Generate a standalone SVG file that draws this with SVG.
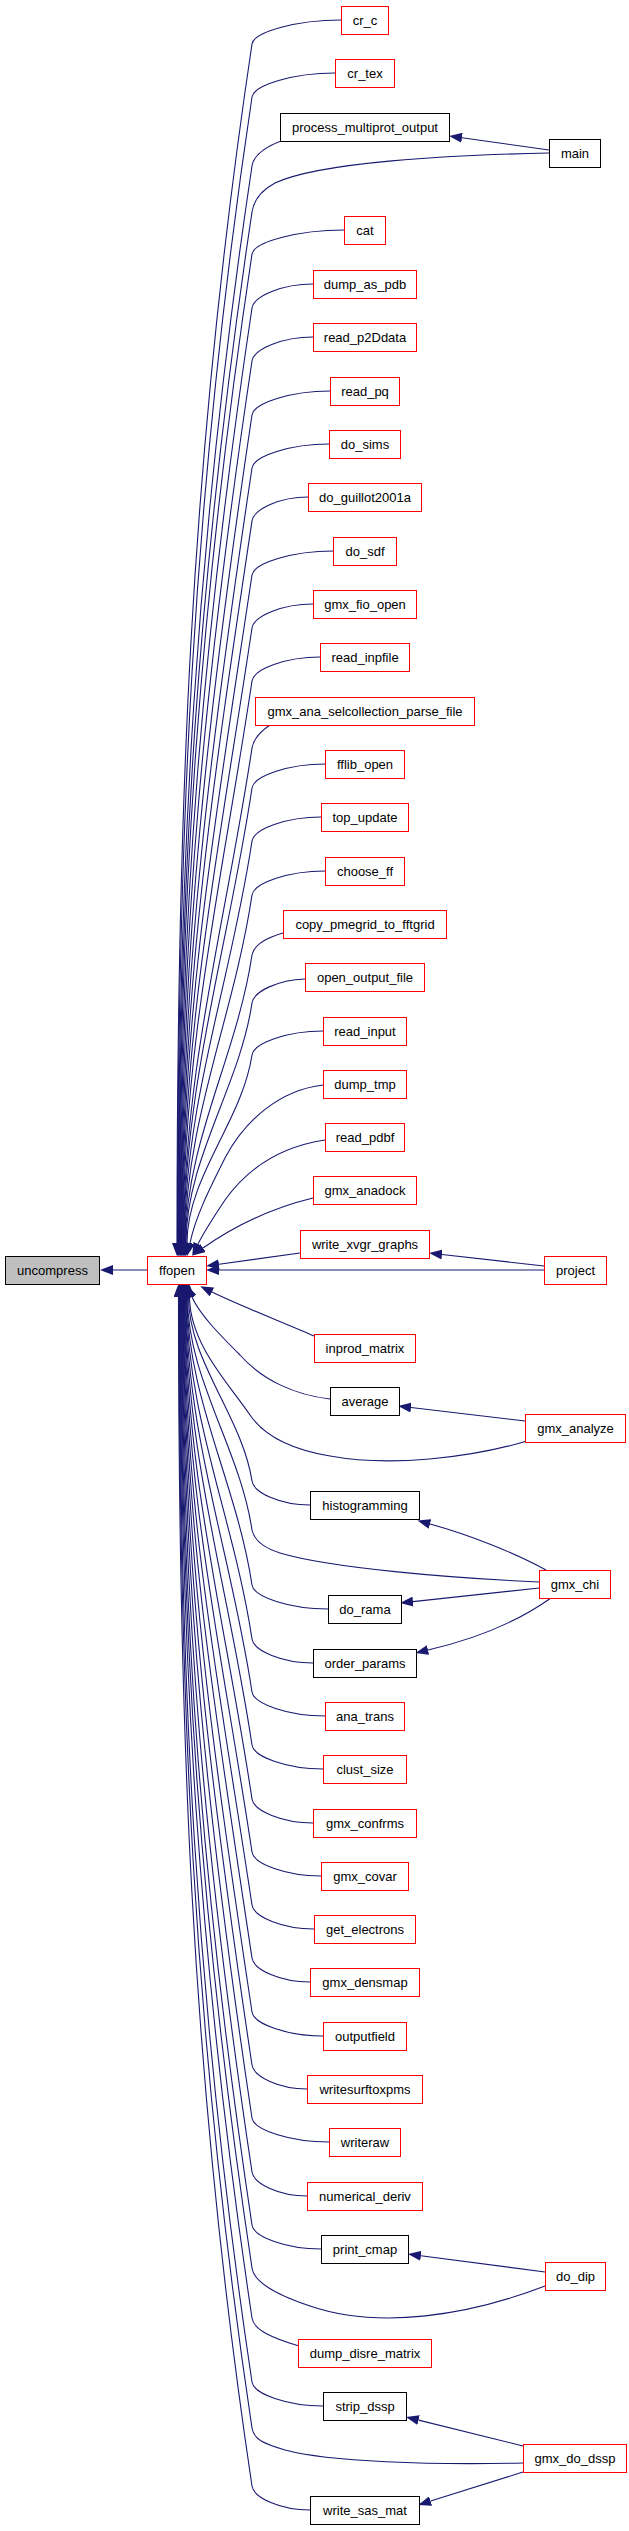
<svg xmlns="http://www.w3.org/2000/svg" width="629" height="2531" viewBox="0 0 629 2531">
<style>
.r{fill:#fff;stroke:#ff0000;stroke-width:1}
.k{fill:#fff;stroke:#000;stroke-width:1}
.g{fill:#bfbfbf;stroke:#000;stroke-width:1}
text{font-family:"Liberation Sans",Arial,sans-serif;font-size:13px;text-anchor:middle;fill:#000}
.e{fill:none;stroke:#191970;stroke-width:1.1;marker-end:url(#ah)}
</style>
<defs>
<marker id="ah" viewBox="0 0 13 10" refX="0" refY="5" markerWidth="13" markerHeight="10" markerUnits="userSpaceOnUse" orient="auto"><path d="M0,0L13,5L0,10z" fill="#191970"/></marker>
</defs>
<rect width="629" height="2531" fill="#fff"/>
<g id="edges">
<path class="e" d="M147,1270 L113,1270"/>
<path class="e" d="M341,20 C296.5,20 253.8,32 252,44 C189,464 177,823 177,1243"/>
<path class="e" d="M335,73 C293.5,73 253.8,85 252,97 C191.8,498 177.5,842 177.5,1243"/>
<path class="e" d="M281,141 C268,146 253.8,154 252,166 C195.5,543 178,866 178,1243"/>
<path class="e" d="M549,153 C450,155 320,162 275,183 C262,190 253.8,200 252,212 C197.9,573 178.5,882 178.5,1243"/>
<path class="e" d="M549,150 L462,137.8"/>
<path class="e" d="M344,230 C298,230 253.8,242 252,254 C200.1,600 179,897 179,1243"/>
<path class="e" d="M313,284 C282.5,284 253.8,296 252,308 C203,635 179.5,916 179.5,1243"/>
<path class="e" d="M313,337 C282.5,337 253.8,349 252,361 C205.7,670 180,934 180,1243"/>
<path class="e" d="M330,391 C291,391 253.8,403 252,415 C208.5,705 180.5,953 180.5,1243"/>
<path class="e" d="M329,444 C290.5,444 253.8,456 252,468 C211.4,739 181,972 181,1243"/>
<path class="e" d="M308,497 C280,497 253.8,509 252,521 C214,774 181.5,990 181.5,1243"/>
<path class="e" d="M333,551 C292.5,551 253.8,563 252,575 C216.9,809 182,1009 182,1243"/>
<path class="e" d="M313,604 C282.5,604 253.8,616 252,628 C219.8,843 182.5,1028 182.5,1243"/>
<path class="e" d="M320,657 C286,657 253.8,669 252,681 C222.5,878 183,1046 183,1243"/>
<path class="e" d="M270,725 C261,731 253.8,738 252,748 C226,921 183.5,1070 183.5,1243"/>
<path class="e" d="M325,764 C288.5,764 253.8,776 252,788 C228.2,947 184,1084 184,1243"/>
<path class="e" d="M321,817 C286.5,817 253.8,829 252,841 C230.9,982 184.5,1102 184.5,1243"/>
<path class="e" d="M325,871 C288.5,871 253.8,883 252,895 C233.7,1017 185,1121 185,1243"/>
<path class="e" d="M283,933 C266,938 253.8,945 252,955 C236.9,1056 185.5,1142 185.5,1243"/>
<path class="e" d="M305,979 C278.5,980 253.8,991 252,1003 C239.4,1087 186,1159 186,1243"/>
<path class="e" d="M323,1031 C287.5,1031 253.8,1043 252,1055 C242.1,1121 187,1177 187,1243"/>
<path class="e" d="M323,1085 C280,1090 245,1120 225,1158 C210,1188 196,1215 190,1243"/>
<path class="e" d="M325,1140 C285,1146 250,1165 225,1200 C215,1215 205,1230 198,1244"/>
<path class="e" d="M313,1198 C280,1206 240,1222 203,1248"/>
<path class="e" d="M300,1253 L219,1264.2"/>
<path class="e" d="M544,1270 L219,1270"/>
<path class="e" d="M544,1266 L442,1254.5"/>
<path class="e" d="M314,1336 C285,1323 245,1308 212,1292"/>
<path class="e" d="M330,1399 C295,1395 262,1380 240,1355 C220,1335 200,1315 192,1297"/>
<path class="e" d="M525,1421 L411,1407.5"/>
<path class="e" d="M527,1441 C470,1458 390,1467 330,1456 C295,1450 265,1437 250,1415 C230,1385 190,1345 189.5,1297"/>
<path class="e" d="M310,1505 C281,1505 253.8,1493 252,1481 C242.3,1417 188.5,1361 188.5,1297"/>
<path class="e" d="M546,1570 C515,1553 470,1535 430,1524"/>
<path class="e" d="M539,1582 C450,1578 330,1568 280,1553 C264,1548 254.5,1541 252,1530 C239.8,1448 187.5,1379 187.5,1297"/>
<path class="e" d="M539,1588 L413,1601.6"/>
<path class="e" d="M551,1598 C520,1620 480,1638 428,1650"/>
<path class="e" d="M328,1609 C290,1609 253.8,1597 252,1585 C236.9,1484 187,1398 187,1297"/>
<path class="e" d="M313,1663 C282.5,1663 253.8,1651 252,1639 C234,1519 186.5,1417 186.5,1297"/>
<path class="e" d="M325,1716 C288.5,1716 253.8,1704 252,1692 C231.3,1554 186,1435 186,1297"/>
<path class="e" d="M323,1769 C287.5,1769 253.8,1757 252,1745 C228.5,1588 185.5,1454 185.5,1297"/>
<path class="e" d="M313,1823 C282.5,1823 253.8,1811 252,1799 C225.6,1623 185,1473 185,1297"/>
<path class="e" d="M321,1876 C286.5,1876 253.8,1864 252,1852 C222.9,1658 184.5,1491 184.5,1297"/>
<path class="e" d="M314,1929 C283,1929 253.8,1917 252,1905 C220,1692 184,1510 184,1297"/>
<path class="e" d="M310,1982 C281,1982 253.8,1970 252,1958 C217.4,1727 183.5,1528 183.5,1297"/>
<path class="e" d="M323,2036 C287.5,2036 253.8,2024 252,2012 C214.5,1762 183,1547 183,1297"/>
<path class="e" d="M307,2089 C279.5,2089 253.8,2077 252,2065 C211.7,1796 182.5,1566 182.5,1297"/>
<path class="e" d="M329,2142 C290.5,2142 253.8,2130 252,2118 C209,1831 182,1584 182,1297"/>
<path class="e" d="M307,2196 C279.5,2196 253.8,2184 252,2172 C206.1,1866 181.5,1603 181.5,1297"/>
<path class="e" d="M321,2249 C286.5,2249 253.8,2237 252,2225 C203.3,1900 181,1622 181,1297"/>
<path class="e" d="M545,2272 L420.9,2255.7"/>
<path class="e" d="M545,2286 C470,2315 380,2330 310,2306 C280,2296 253.8,2283 252,2268 C201,1928 180.5,1637 180.5,1297"/>
<path class="e" d="M299,2346 C272,2338 253.8,2330 252,2318 C198.5,1961 180,1654 180,1297"/>
<path class="e" d="M323,2406 C287.5,2406 253.8,2394 252,2382 C195,2002 179.5,1677 179.5,1297"/>
<path class="e" d="M523,2446 L418.6,2420.1"/>
<path class="e" d="M523,2463 C430,2465 330,2462 285,2450 C265,2444 253.8,2440 252,2428 C192.6,2032 179,1693 179,1297"/>
<path class="e" d="M523,2472 L430.6,2501.1"/>
<path class="e" d="M310,2510 C281,2510 253.8,2498 252,2486 C189.6,2070 178.5,1713 178.5,1297"/>
</g>
<g id="node-uncompress"><rect class="g" x="5.5" y="1256.5" width="94" height="28"/><text x="52.5" y="1274.5">uncompress</text></g>
<g id="node-ffopen"><rect class="r" x="147.5" y="1256.5" width="59" height="28"/><text x="177" y="1274.5">ffopen</text></g>
<g id="node-cr_c"><rect class="r" x="341.5" y="6.5" width="47" height="28"/><text x="365" y="24.5">cr_c</text></g>
<g id="node-cr_tex"><rect class="r" x="335.5" y="59.5" width="59" height="28"/><text x="365" y="77.5">cr_tex</text></g>
<g id="node-process_multiprot_output"><rect class="k" x="280.5" y="113.5" width="169" height="28"/><text x="365" y="131.5">process_multiprot_output</text></g>
<g id="node-main"><rect class="k" x="549.5" y="139.5" width="51" height="28"/><text x="575" y="157.5">main</text></g>
<g id="node-cat"><rect class="r" x="344.5" y="216.5" width="41" height="28"/><text x="365" y="234.5">cat</text></g>
<g id="node-dump_as_pdb"><rect class="r" x="313.5" y="270.5" width="103" height="28"/><text x="365" y="288.5">dump_as_pdb</text></g>
<g id="node-read_p2Ddata"><rect class="r" x="313.5" y="323.5" width="103" height="28"/><text x="365" y="341.5">read_p2Ddata</text></g>
<g id="node-read_pq"><rect class="r" x="330.5" y="377.5" width="69" height="28"/><text x="365" y="395.5">read_pq</text></g>
<g id="node-do_sims"><rect class="r" x="329.5" y="430.5" width="71" height="28"/><text x="365" y="448.5">do_sims</text></g>
<g id="node-do_guillot2001a"><rect class="r" x="308.5" y="483.5" width="113" height="28"/><text x="365" y="501.5">do_guillot2001a</text></g>
<g id="node-do_sdf"><rect class="r" x="333.5" y="537.5" width="63" height="28"/><text x="365" y="555.5">do_sdf</text></g>
<g id="node-gmx_fio_open"><rect class="r" x="313.5" y="590.5" width="103" height="28"/><text x="365" y="608.5">gmx_fio_open</text></g>
<g id="node-read_inpfile"><rect class="r" x="320.5" y="643.5" width="89" height="28"/><text x="365" y="661.5">read_inpfile</text></g>
<g id="node-gmx_ana_selcollection_parse_file"><rect class="r" x="255.5" y="697.5" width="219" height="28"/><text x="365" y="715.5">gmx_ana_selcollection_parse_file</text></g>
<g id="node-fflib_open"><rect class="r" x="325.5" y="750.5" width="79" height="28"/><text x="365" y="768.5">fflib_open</text></g>
<g id="node-top_update"><rect class="r" x="321.5" y="803.5" width="87" height="28"/><text x="365" y="821.5">top_update</text></g>
<g id="node-choose_ff"><rect class="r" x="325.5" y="857.5" width="79" height="28"/><text x="365" y="875.5">choose_ff</text></g>
<g id="node-copy_pmegrid_to_fftgrid"><rect class="r" x="283.5" y="910.5" width="163" height="28"/><text x="365" y="928.5">copy_pmegrid_to_fftgrid</text></g>
<g id="node-open_output_file"><rect class="r" x="305.5" y="963.5" width="119" height="28"/><text x="365" y="981.5">open_output_file</text></g>
<g id="node-read_input"><rect class="r" x="323.5" y="1017.5" width="83" height="28"/><text x="365" y="1035.5">read_input</text></g>
<g id="node-dump_tmp"><rect class="r" x="323.5" y="1070.5" width="83" height="28"/><text x="365" y="1088.5">dump_tmp</text></g>
<g id="node-read_pdbf"><rect class="r" x="325.5" y="1123.5" width="79" height="28"/><text x="365" y="1141.5">read_pdbf</text></g>
<g id="node-gmx_anadock"><rect class="r" x="313.5" y="1176.5" width="103" height="28"/><text x="365" y="1194.5">gmx_anadock</text></g>
<g id="node-write_xvgr_graphs"><rect class="r" x="300.5" y="1230.5" width="129" height="28"/><text x="365" y="1248.5">write_xvgr_graphs</text></g>
<g id="node-project"><rect class="r" x="544.5" y="1256.5" width="62" height="28"/><text x="575.5" y="1274.5">project</text></g>
<g id="node-inprod_matrix"><rect class="r" x="314.5" y="1334.5" width="101" height="28"/><text x="365" y="1352.5">inprod_matrix</text></g>
<g id="node-average"><rect class="k" x="330.5" y="1387.5" width="69" height="28"/><text x="365" y="1405.5">average</text></g>
<g id="node-gmx_analyze"><rect class="r" x="525.5" y="1414.5" width="100" height="28"/><text x="575.5" y="1432.5">gmx_analyze</text></g>
<g id="node-histogramming"><rect class="k" x="310.5" y="1491.5" width="109" height="28"/><text x="365" y="1509.5">histogramming</text></g>
<g id="node-gmx_chi"><rect class="r" x="539.5" y="1570.5" width="71" height="28"/><text x="575" y="1588.5">gmx_chi</text></g>
<g id="node-do_rama"><rect class="k" x="328.5" y="1595.5" width="73" height="28"/><text x="365" y="1613.5">do_rama</text></g>
<g id="node-order_params"><rect class="k" x="313.5" y="1649.5" width="103" height="28"/><text x="365" y="1667.5">order_params</text></g>
<g id="node-ana_trans"><rect class="r" x="325.5" y="1702.5" width="79" height="28"/><text x="365" y="1720.5">ana_trans</text></g>
<g id="node-clust_size"><rect class="r" x="323.5" y="1755.5" width="83" height="28"/><text x="365" y="1773.5">clust_size</text></g>
<g id="node-gmx_confrms"><rect class="r" x="313.5" y="1809.5" width="103" height="28"/><text x="365" y="1827.5">gmx_confrms</text></g>
<g id="node-gmx_covar"><rect class="r" x="321.5" y="1862.5" width="87" height="28"/><text x="365" y="1880.5">gmx_covar</text></g>
<g id="node-get_electrons"><rect class="r" x="314.5" y="1915.5" width="101" height="28"/><text x="365" y="1933.5">get_electrons</text></g>
<g id="node-gmx_densmap"><rect class="r" x="310.5" y="1968.5" width="109" height="28"/><text x="365" y="1986.5">gmx_densmap</text></g>
<g id="node-outputfield"><rect class="r" x="323.5" y="2022.5" width="83" height="28"/><text x="365" y="2040.5">outputfield</text></g>
<g id="node-writesurftoxpms"><rect class="r" x="307.5" y="2075.5" width="115" height="28"/><text x="365" y="2093.5">writesurftoxpms</text></g>
<g id="node-writeraw"><rect class="r" x="329.5" y="2128.5" width="71" height="28"/><text x="365" y="2146.5">writeraw</text></g>
<g id="node-numerical_deriv"><rect class="r" x="307.5" y="2182.5" width="115" height="28"/><text x="365" y="2200.5">numerical_deriv</text></g>
<g id="node-print_cmap"><rect class="k" x="321.5" y="2235.5" width="87" height="28"/><text x="365" y="2253.5">print_cmap</text></g>
<g id="node-do_dip"><rect class="r" x="545.5" y="2262.5" width="60" height="28"/><text x="575.5" y="2280.5">do_dip</text></g>
<g id="node-dump_disre_matrix"><rect class="r" x="298.5" y="2339.5" width="133" height="28"/><text x="365" y="2357.5">dump_disre_matrix</text></g>
<g id="node-strip_dssp"><rect class="k" x="323.5" y="2392.5" width="83" height="28"/><text x="365" y="2410.5">strip_dssp</text></g>
<g id="node-gmx_do_dssp"><rect class="r" x="523.5" y="2444.5" width="103" height="28"/><text x="575" y="2462.5">gmx_do_dssp</text></g>
<g id="node-write_sas_mat"><rect class="k" x="310.5" y="2496.5" width="109" height="28"/><text x="365" y="2514.5">write_sas_mat</text></g>
</svg>
